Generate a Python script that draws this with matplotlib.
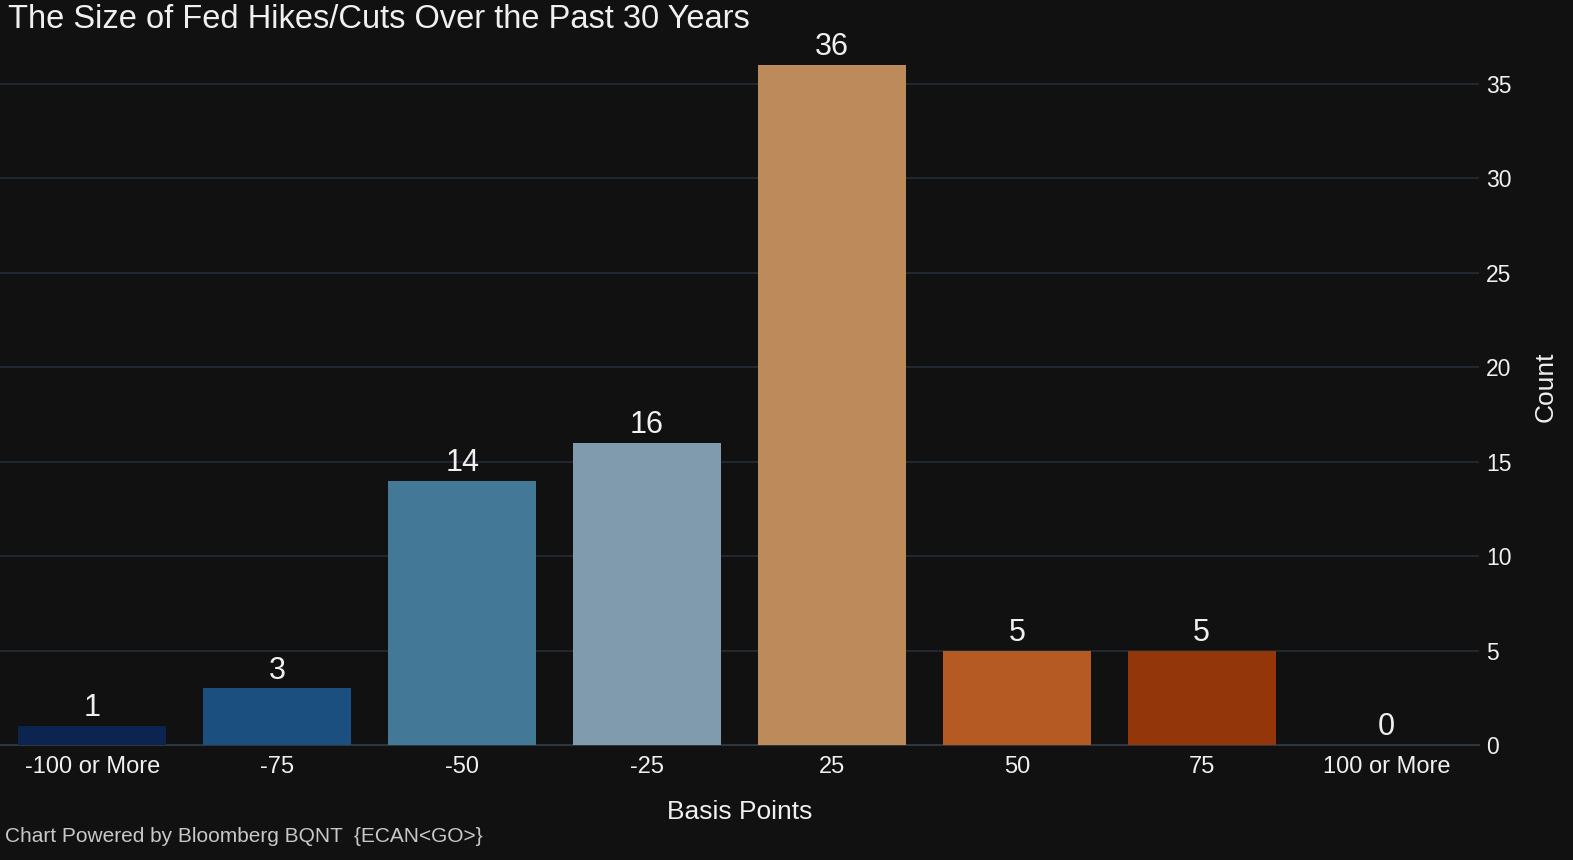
import numpy as np
import matplotlib
matplotlib.use("Agg")
from matplotlib import pyplot as plt

# data
categories = ["-100 or More", "-75", "-50", "-25", "25", "50", "75", "100 or More"]
counts = [1, 3, 14, 16, 36, 5, 5, 0]
bar_colors = ["#0b2550", "#1a4f80", "#437896", "#7f9bad", "#bd8a5c", "#b45a22", "#93360a", "#7a2a08"]
yticks = [0, 5, 10, 15, 20, 25, 30, 35]

plt.rcParams["font.family"] = ["Liberation Sans", "DejaVu Sans"]
bg = "#111111"
txt = "#f0f0f0"

W, H = 1573, 860
fig = plt.figure(figsize=(W / 100, H / 100), dpi=100, facecolor=bg)
# plot area in pixels: x 0..1479, y 29..745
ax = fig.add_axes([0, (H - 745) / H, 1479 / W, (745 - 29) / H], facecolor=bg)

x = np.arange(len(categories))
ax.bar(x, counts, width=0.8, color=bar_colors, zorder=3)
ax.set_xlim(-0.5, len(categories) - 0.5)
ax.set_ylim(0, 37.9)

for xi, c in zip(x, counts):
    ax.annotate(str(c), (xi, c), xytext=(0, 2), textcoords="offset points",
                ha="center", va="bottom", color=txt, fontsize=22)

ax.set_yticks(yticks)
ax.yaxis.tick_right()
ax.yaxis.set_label_position("right")
ax.grid(axis="y", color="#232a33", linewidth=1.3, zorder=0)
ax.set_axisbelow(True)
ax.tick_params(axis="y", length=0, pad=5, labelsize=16.5, labelcolor=txt)
ax.set_xticks(x)
ax.set_xticklabels(categories)
ax.tick_params(axis="x", length=0, pad=8, labelsize=17, labelcolor=txt)
for s in ["top", "right", "left"]:
    ax.spines[s].set_visible(False)
ax.spines["bottom"].set_color("#2c3540")
ax.spines["bottom"].set_linewidth(1.5)

ax.set_ylabel("Count", color=txt, fontsize=19, labelpad=16)
ax.set_xlabel("Basis Points", color=txt, fontsize=19, labelpad=16)

fig.text(8 / W, 1 - 20 / H, "The Size of Fed Hikes/Cuts Over the Past 30 Years",
         color=txt, fontsize=23.5, ha="left", va="center")
fig.text(5 / W, 1 - 837 / H, "Chart Powered by Bloomberg BQNT  {ECAN<GO>}",
         color="#c8c8c8", fontsize=15, ha="left", va="center")

fig.savefig("out.png", dpi=100, facecolor=bg)
